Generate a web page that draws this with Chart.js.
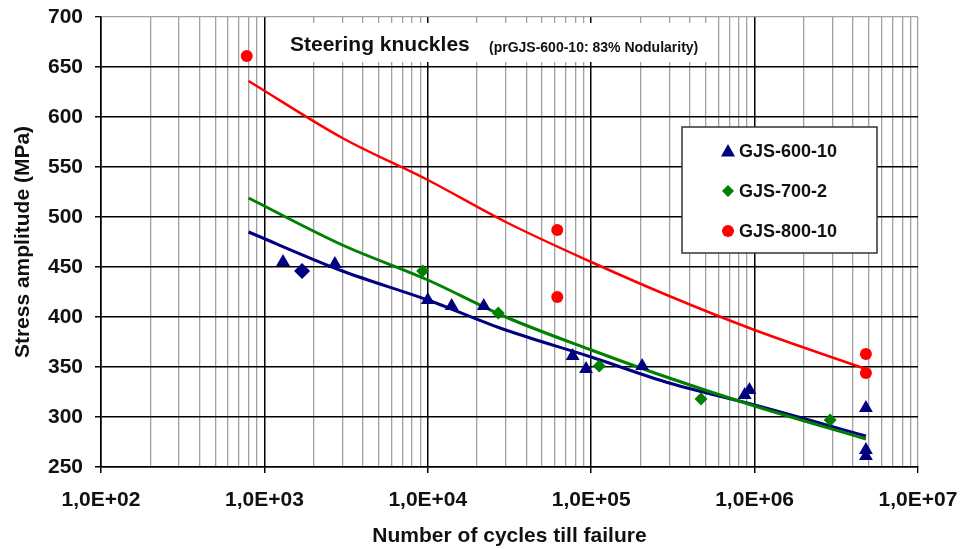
<!DOCTYPE html>
<html lang="en">
<head>
    <meta charset="UTF-8">
    <title>Steering knuckles</title>
    <script src="https://cdn.jsdelivr.net/npm/chart.js"></script>
    <style>
        body {
            margin: 0;
            padding: 0;
            background: white;
        }
        #wrap {
            width: 965px;
            height: 549px;
        }
    </style>
</head>
<body>
    <div id="wrap">
        <canvas id="snChart" width="965" height="549"></canvas>
    </div>

    <script>
        // measured points (cycles, stress amplitude MPa)
        const n600 = [1300, 1700, 2700, 10000, 14000, 22000, 77000, 93000, 205000, 870000, 930000, 4800000, 4800000, 4800000];
        const s600 = [455, 446, 453, 417, 411, 411, 361, 348, 351, 322, 327, 309, 267, 261];
        const shape600 = ['triangle', 'rectRot', 'triangle', 'triangle', 'triangle', 'triangle', 'triangle',
                          'triangle', 'triangle', 'triangle', 'triangle', 'triangle', 'triangle', 'triangle'];

        const n700 = [9300, 27000, 112000, 470000, 2900000];
        const s700 = [446, 404, 351, 318, 297];

        const n800 = [780, 62000, 62000, 4800000, 4800000];
        const s800 = [661, 487, 420, 363, 344];

        // fitted curves
        const fitN = [800, 3000, 10000, 30000, 100000, 300000, 1000000, 4800000];
        const fit600 = [485, 446, 417, 387, 360, 334, 312, 281];
        const fit700 = [519, 472, 437, 400, 367, 339, 311, 278];
        const fit800 = [636, 579, 537, 495, 455, 421, 387, 348];

        const decadeLabels = ['1,0E+02', '1,0E+03', '1,0E+04', '1,0E+05', '1,0E+06', '1,0E+07'];
        const chartTitle = 'Steering knuckles';
        const chartSubtitle = '(prGJS-600-10: 83% Nodularity)';

        const BLUE = '#000080';
        const GREEN = '#008000';
        const RED = '#ff0000';
        const FONT = "'Liberation Sans', Arial, sans-serif";
        const TXT = '#111111';

        const toXY = (xs, ys) => xs.map((x, i) => ({ x: x, y: ys[i] }));
        const isDecade = v => Math.abs(Math.log10(v) - Math.round(Math.log10(v))) < 1e-9;

        // white box with the chart caption, over the grid
        const captionBox = {
            id: 'captionBox',
            beforeDatasetsDraw(chart) {
                const ctx = chart.ctx;
                ctx.save();
                ctx.fillStyle = 'white';
                ctx.fillRect(267, 23, 445, 39);
                ctx.fillStyle = TXT;
                ctx.textBaseline = 'alphabetic';
                ctx.font = 'bold 21px ' + FONT;
                ctx.fillText(chartTitle, 290, 51);
                ctx.font = 'bold 14px ' + FONT;
                ctx.fillText(chartSubtitle, 489, 52);
                ctx.restore();
            }
        };

        function drawMarker(ctx, style, x, y, color) {
            ctx.fillStyle = color;
            ctx.beginPath();
            if (style === 'triangle') {
                ctx.moveTo(x, y - 7);
                ctx.lineTo(x + 7, y + 5.5);
                ctx.lineTo(x - 7, y + 5.5);
            } else if (style === 'rectRot') {
                ctx.moveTo(x, y - 6);
                ctx.lineTo(x + 6, y);
                ctx.lineTo(x, y + 6);
                ctx.lineTo(x - 6, y);
            } else {
                ctx.arc(x, y, 6, 0, Math.PI * 2);
            }
            ctx.closePath();
            ctx.fill();
        }

        // legend box drawn inside the plot
        const boxLegend = {
            id: 'boxLegend',
            afterDraw(chart) {
                const ctx = chart.ctx;
                const items = [
                    { ds: chart.data.datasets[0], style: 'triangle' },
                    { ds: chart.data.datasets[1], style: 'rectRot' },
                    { ds: chart.data.datasets[2], style: 'circle' }
                ];
                ctx.save();
                ctx.fillStyle = 'white';
                ctx.fillRect(682, 127, 195, 126);
                ctx.strokeStyle = '#333';
                ctx.lineWidth = 1.5;
                ctx.strokeRect(682, 127, 195, 126);
                ctx.font = 'bold 18px ' + FONT;
                ctx.textBaseline = 'middle';
                items.forEach((it, i) => {
                    const y = 151 + i * 40;
                    drawMarker(ctx, it.style, 728, y, it.ds.backgroundColor);
                    ctx.fillStyle = TXT;
                    ctx.fillText(it.ds.label, 739, y + 1);
                });
                ctx.restore();
            }
        };

        const xTicks = [];
        for (let k = 2; k < 7; k++) {
            for (let m = 1; m < 10; m++) xTicks.push(m * Math.pow(10, k));
        }
        xTicks.push(1e7);

        new Chart(document.getElementById('snChart'), {
            type: 'scatter',
            data: {
                datasets: [
                    {
                        label: 'GJS-600-10',
                        data: toXY(n600, s600),
                        backgroundColor: BLUE,
                        borderColor: BLUE,
                        pointStyle: shape600,
                        pointRadius: 8,
                        pointBorderWidth: 0,
                        order: 0
                    },
                    {
                        label: 'GJS-700-2',
                        data: toXY(n700, s700),
                        backgroundColor: GREEN,
                        borderColor: GREEN,
                        pointStyle: 'rectRot',
                        pointRadius: 6.5,
                        pointBorderWidth: 0,
                        order: 0
                    },
                    {
                        label: 'GJS-800-10',
                        data: toXY(n800, s800),
                        backgroundColor: RED,
                        borderColor: RED,
                        pointStyle: 'circle',
                        pointRadius: 6,
                        pointBorderWidth: 0,
                        order: 0
                    },
                    {
                        label: 'fit 600',
                        data: toXY(fitN, fit600),
                        showLine: true,
                        borderColor: BLUE,
                        borderWidth: 3,
                        pointRadius: 0,
                        cubicInterpolationMode: 'monotone',
                        order: 2
                    },
                    {
                        label: 'fit 700',
                        data: toXY(fitN, fit700),
                        showLine: true,
                        borderColor: GREEN,
                        borderWidth: 3,
                        pointRadius: 0,
                        cubicInterpolationMode: 'monotone',
                        order: 1
                    },
                    {
                        label: 'fit 800',
                        data: toXY(fitN, fit800),
                        showLine: true,
                        borderColor: RED,
                        borderWidth: 2.5,
                        pointRadius: 0,
                        cubicInterpolationMode: 'monotone',
                        order: 1
                    }
                ]
            },
            options: {
                responsive: false,
                animation: false,
                layout: {
                    padding: { top: 17, right: 47, left: 0, bottom: 0 }
                },
                plugins: {
                    legend: { display: false },
                    tooltip: { enabled: false }
                },
                scales: {
                    x: {
                        type: 'logarithmic',
                        min: 100,
                        max: 1e7,
                        afterBuildTicks: scale => {
                            scale.ticks = xTicks.map(v => ({ value: v }));
                        },
                        afterFit: scale => {
                            scale.height = 82;
                            scale.paddingLeft = 0;
                            scale.paddingRight = 0;
                        },
                        border: { color: '#000', width: 1.5 },
                        grid: {
                            color: c => isDecade(c.tick.value) && c.tick.value < 1e7 ? '#000' : '#a0a0a0',
                            lineWidth: c => isDecade(c.tick.value) && c.tick.value < 1e7 ? 1.5 : 1.3,
                            tickColor: c => isDecade(c.tick.value) ? '#000' : 'rgba(0,0,0,0)',
                            tickLength: 6
                        },
                        ticks: {
                            autoSkip: false,
                            maxRotation: 0,
                            padding: 15,
                            color: TXT,
                            font: { family: FONT, size: 21, weight: 'bold' },
                            callback: v => isDecade(v) ? decadeLabels[Math.round(Math.log10(v)) - 2] : ''
                        },
                        title: {
                            display: true,
                            text: 'Number of cycles till failure',
                            color: TXT,
                            font: { family: FONT, size: 21, weight: 'bold' },
                            padding: { top: 0, bottom: 0 }
                        }
                    },
                    y: {
                        min: 250,
                        max: 700,
                        afterFit: scale => {
                            scale.width = 101;
                            scale.paddingTop = 0;
                            scale.paddingBottom = 0;
                        },
                        border: { color: '#000', width: 1.5 },
                        grid: {
                            color: c => c.tick.value === 700 ? '#a0a0a0' : '#000',
                            lineWidth: c => c.tick.value === 700 ? 1.3 : 1.5,
                            tickColor: '#000',
                            tickLength: 6
                        },
                        ticks: {
                            stepSize: 50,
                            padding: 12,
                            color: TXT,
                            font: { family: FONT, size: 21, weight: 'bold' }
                        },
                        title: {
                            display: true,
                            text: 'Stress amplitude (MPa)',
                            color: TXT,
                            font: { family: FONT, size: 21, weight: 'bold' },
                            padding: { top: 11, bottom: 0 }
                        }
                    }
                }
            },
            plugins: [captionBox, boxLegend]
        });
    </script>
</body>
</html>
